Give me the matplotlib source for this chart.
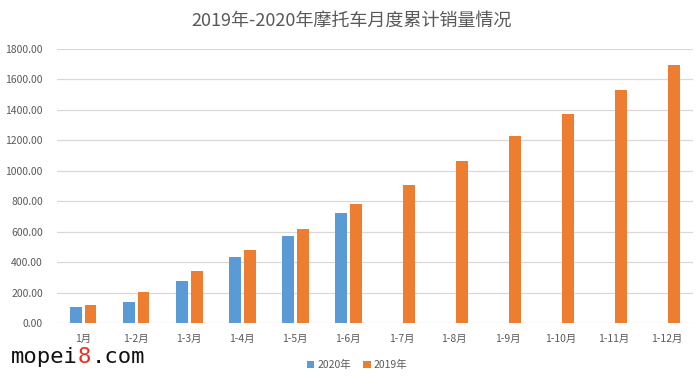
import matplotlib.pyplot as plt
import numpy as np

plt.rcParams['font.family'] = ['Noto Sans CJK SC', 'DejaVu Sans']

categories = ['1月', '1-2月', '1-3月', '1-4月', '1-5月', '1-6月',
              '1-7月', '1-8月', '1-9月', '1-10月', '1-11月', '1-12月']
sales_2020 = [105, 138, 276, 434, 572, 723]
sales_2019 = [118, 204, 342, 480, 618, 782, 907, 1064, 1229, 1373, 1531, 1695]
yticks = [0, 200, 400, 600, 800, 1000, 1200, 1400, 1600, 1800]

blue = '#5B9BD5'
orange = '#ED7D31'
text_grey = '#595959'

fig = plt.figure(figsize=(7.0, 3.79), dpi=100)
ax = fig.add_axes([0.081, 0.1478, 0.909, 0.7229])

x = np.arange(len(categories))
width = 0.22
ax.bar(x[:len(sales_2020)] - 0.14, sales_2020, width, color=blue, label='2020年', zorder=3)
ax.bar(x + 0.14, sales_2019, width, color=orange, label='2019年', zorder=3)

ax.set_xlim(-0.5, len(categories) - 0.5)
ax.set_ylim(0, 1800)
ax.set_yticks(yticks)
ax.set_yticklabels([f'{v:.2f}' for v in yticks])
ax.set_xticks(x)
ax.set_xticklabels(categories)
ax.tick_params(axis='both', length=0, labelsize=7.5, colors=text_grey)
ax.tick_params(axis='x', pad=8)
ax.tick_params(axis='y', pad=10)
ax.grid(axis='y', color='#D9D9D9', linewidth=0.9, zorder=0)
for s in ax.spines.values():
    s.set_visible(False)

fig.text(0.502, 0.945, '2019年-2020年摩托车月度累计销量情况',
         ha='center', va='center', fontsize=13, color=text_grey)

fig.legend(loc='center', bbox_to_anchor=(0.51, 0.037), ncol=2, frameon=False,
           fontsize=7.5, handlelength=0.7, handleheight=0.7, handletextpad=0.3,
           columnspacing=1.2, labelcolor=text_grey)

# watermark, drawn in three pieces so the 8 can be red
wm_y = 0.042
wm_font = dict(fontsize=16, family='DejaVu Sans Mono', va='baseline')
t1 = fig.text(0.016, wm_y, 'mopei', color='#111111', **wm_font)
fig.canvas.draw()
r = fig.canvas.get_renderer()
bb = t1.get_window_extent(r)
t2 = fig.text(bb.x1 / fig.bbox.width, wm_y, '8', color='#E8321E', **wm_font)
bb2 = t2.get_window_extent(r)
fig.text(bb2.x1 / fig.bbox.width, wm_y, '.com', color='#111111', **wm_font)

fig.savefig('out.png', dpi=100)
